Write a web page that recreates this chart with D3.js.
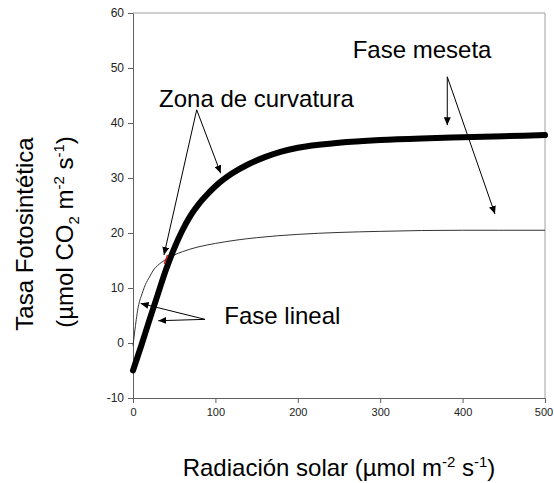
<!DOCTYPE html>
<html>
<head>
<meta charset="utf-8">
<script src="https://cdn.jsdelivr.net/npm/d3@7/dist/d3.min.js"></script>
<style>
  html, body { margin: 0; padding: 0; background: #fff; }
  svg { display: block; font-family: "Liberation Sans", Arial, sans-serif; }
</style>
</head>
<body>
<svg id="chart" width="554" height="483"></svg>
<script>
// Light-response curves of net photosynthesis
const radiacionAlta = [0, 10, 20, 30, 40, 50, 60, 70, 80, 90, 100, 120, 140, 160, 180, 200, 250, 300, 350, 400, 450, 500];
const tasaAlta      = [-5, -0.5, 4.2, 8.8, 13.3, 17.2, 20.5, 23.2, 25.3, 27.0, 28.5, 30.8, 32.5, 33.8, 34.8, 35.5, 36.4, 36.9, 37.2, 37.4, 37.6, 37.8];

const radiacionBaja = [0, 2, 4, 6, 8, 10, 15, 20, 25, 30, 40, 50, 60, 70, 80, 100, 125, 150, 200, 250, 300, 350, 400, 450, 500];
const tasaBaja      = [-0.5, 2.0, 4.3, 6.3, 7.6, 8.5, 10.6, 12.0, 13.3, 14.1, 15.2, 16.0, 16.6, 17.1, 17.5, 18.1, 18.7, 19.15, 19.75, 20.1, 20.3, 20.45, 20.5, 20.5, 20.5];

// short highlighted piece where the two curves cross
const cruceX = [38, 42];
const cruceY = [14.4, 16.0];

const xTicks = [0, 100, 200, 300, 400, 500];
const yTicks = [-10, 0, 10, 20, 30, 40, 50, 60];

// annotation anchors, in data units
const rotulos = [
  { texto: "Fase meseta",       x: 266.6, y: 51.8 },
  { texto: "Zona de curvatura", x: 31.6,  y: 43.0 },
  { texto: "Fase lineal",       x: 110.8, y: 3.45 }
];
const flechas = [
  { desde: [381.4, 48.4], hasta: [381.4, 39.6] },
  { desde: [381.4, 48.4], hasta: [439.3, 23.45] },
  { desde: [77.3, 42.4],  hasta: [106.4, 30.85] },
  { desde: [77.3, 42.4],  hasta: [37.6, 16.0] },
  { desde: [87.4, 4.3],   hasta: [9.3, 7.2] },
  { desde: [87.4, 4.3],   hasta: [30.7, 4.05] }
];

const svg = d3.select("#chart");
const mIzq = 133, mDer = 545, mSup = 13, mInf = 398;

const x = d3.scaleLinear().domain([0, 500]).range([mIzq, mDer]);
const y = d3.scaleLinear().domain([-10, 60]).range([mInf, mSup]);

// frame: top and right sides
svg.append("path")
  .attr("d", `M${mIzq},${mSup}H${mDer}V${mInf}`)
  .attr("fill", "none").attr("stroke", "#a0a0a0").attr("stroke-width", 1);

// axes (plain hyphen for negative labels)
const etiqueta = d => String(d);
const gx = svg.append("g").attr("transform", `translate(0,${mInf})`)
  .call(d3.axisBottom(x).tickValues(xTicks).tickFormat(etiqueta).tickSize(5).tickSizeOuter(0).tickPadding(5));
const gy = svg.append("g").attr("transform", `translate(${mIzq},0)`)
  .call(d3.axisLeft(y).tickValues(yTicks).tickFormat(etiqueta).tickSize(5).tickSizeOuter(0).tickPadding(4));
[gx, gy].forEach(g => {
  g.select(".domain").attr("stroke", "#606060");
  g.selectAll(".tick line").attr("stroke", "#606060");
  g.selectAll(".tick text").attr("fill", "#222")
    .attr("font-family", "'Liberation Sans', Arial, sans-serif");
});
gx.selectAll(".tick text").attr("font-size", 11);
gy.selectAll(".tick text").attr("font-size", 12);
// keep the last x label inside the canvas
gx.selectAll(".tick text").filter(d => d === 500).attr("dx", -1.5);

// curves
const linea = (xs, ys) => d3.line().x((d, i) => x(xs[i])).y((d, i) => y(ys[i])).curve(d3.curveMonotoneX)(xs);

svg.append("path")
  .attr("d", linea(radiacionBaja, tasaBaja))
  .attr("fill", "none").attr("stroke", "#333").attr("stroke-width", 1);

svg.append("path")
  .attr("d", linea(radiacionAlta, tasaAlta))
  .attr("fill", "none").attr("stroke", "#000").attr("stroke-width", 6)
  .attr("stroke-linecap", "round").attr("stroke-linejoin", "round");

svg.append("path")
  .attr("d", d3.line().x((d, i) => x(cruceX[i])).y((d, i) => y(cruceY[i]))(cruceX))
  .attr("fill", "none").attr("stroke", "#d01010").attr("stroke-width", 1.5);

// arrows
svg.append("defs").append("marker")
  .attr("id", "punta").attr("markerUnits", "userSpaceOnUse")
  .attr("viewBox", "0 0 8 7").attr("refX", 8).attr("refY", 3.5)
  .attr("markerWidth", 8).attr("markerHeight", 7).attr("orient", "auto")
  .append("path").attr("d", "M0,0L8,3.5L0,7Z").attr("fill", "#000");

svg.append("g").selectAll("line").data(flechas).join("line")
  .attr("x1", d => x(d.desde[0])).attr("y1", d => y(d.desde[1]))
  .attr("x2", d => x(d.hasta[0])).attr("y2", d => y(d.hasta[1]))
  .attr("stroke", "#000").attr("stroke-width", 1)
  .attr("marker-end", "url(#punta)");

svg.append("g").selectAll("text").data(rotulos).join("text")
  .attr("x", d => x(d.x)).attr("y", d => y(d.y))
  .attr("font-size", 24).attr("fill", "#000")
  .text(d => d.texto);

// axis titles
function conExponentes(sel, partes) {
  partes.forEach(p => {
    const t = sel.append("tspan").text(p.t);
    if (p.sup) t.attr("font-size", 15).attr("dy", -9);
    if (p.sub) t.attr("font-size", 15).attr("dy", 6);
    if (p.back) t.attr("dy", p.back);
  });
}

const tx = svg.append("text").attr("x", 339).attr("y", 476)
  .attr("text-anchor", "middle").attr("font-size", 24).attr("fill", "#000");
conExponentes(tx, [
  { t: "Radiación solar (µmol m" }, { t: "-2", sup: true },
  { t: " s", back: 9 }, { t: "-1", sup: true }, { t: ")", back: 9 }
]);

svg.append("text").attr("transform", "translate(33,234) rotate(-90)")
  .attr("text-anchor", "middle").attr("font-size", 24).attr("fill", "#000")
  .text("Tasa Fotosintética");

const ty = svg.append("text").attr("transform", "translate(73,232) rotate(-90)")
  .attr("text-anchor", "middle").attr("font-size", 24).attr("fill", "#000");
conExponentes(ty, [
  { t: "(µmol CO" }, { t: "2", sub: true }, { t: " m", back: -6 },
  { t: "-2", sup: true }, { t: " s", back: 9 }, { t: "-1", sup: true }, { t: ")", back: 9 }
]);
</script>
</body>
</html>
